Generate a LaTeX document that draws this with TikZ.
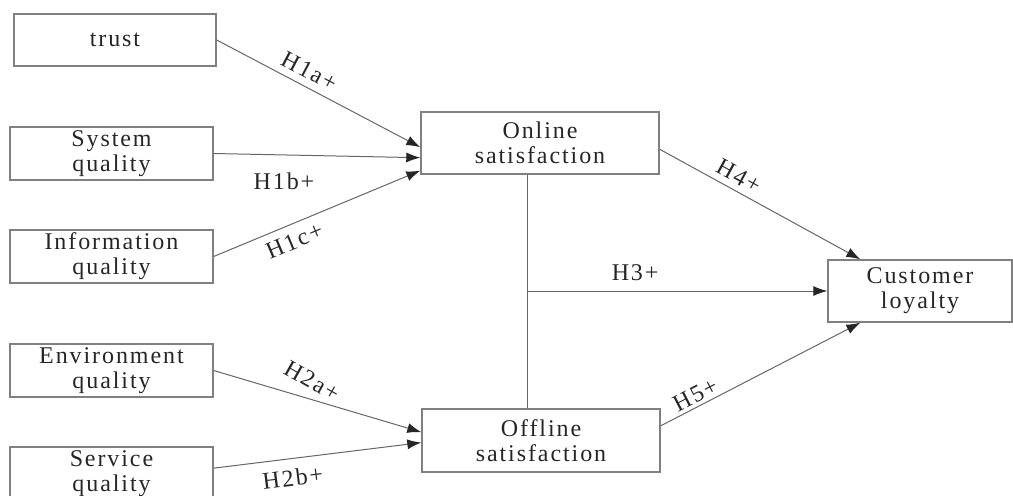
\documentclass[tikz,border=0pt]{standalone}
\usepackage{fontspec}
\setmainfont{Liberation Serif}[LetterSpace=8]
\usetikzlibrary{arrows.meta}

\begin{document}
\begin{tikzpicture}[auto, x=0.5pt, y=-0.5pt,
    every node/.style={font=\fontsize{12}{12.5}\selectfont, text=black!85},
    box/.style={draw=black!50, line width=0.7pt, align=center, inner sep=0pt},
    inbox/.style={box, minimum width=101.5pt, minimum height=26.5pt},
    link/.style={draw=black!60, line width=0.5pt, -{Latex[length=7pt,width=5pt,color=black!85]}},
    hyp/.style={inner sep=3pt}]
    \useasboundingbox (0,0) rectangle (1013,495);
    \node[box, minimum width=101pt, minimum height=26pt] (tr) at (115,40) {trust};
    \node[inbox] (sq) at (111.5,153.5) {System\\quality};
    \node[inbox] (iq) at (111.5,256.5) {Information\\quality};
    \node[inbox] (eq) at (111.5,370.5) {Environment\\quality};
    \node[inbox] (svq) at (111.5,473.5) {Service\\quality};
    \node[box, minimum width=119pt, minimum height=31pt] (on) at (540,143) {Online\\satisfaction};
    \node[box, minimum width=119pt, minimum height=31.5pt] (off) at (541,440.5) {Offline\\satisfaction};
    \node[box, minimum width=92pt, minimum height=31pt] (cl) at (920,291) {Customer\\loyalty};
    \coordinate (jn) at (527,291);
    \draw [link] (tr.east) to node[hyp, sloped, pos=.42, inner sep=3.4pt] {H1a+} (on.182);
    \draw [link] (sq.east) to node[hyp, swap, pos=.34, inner sep=8.5pt] {H1b+} (on.187);
    \draw [link] (iq.east) to node[hyp, swap, sloped, pos=.36, inner sep=4pt] {H1c+} (on.193);
    \draw [link] (eq.east) to node[hyp, sloped, rotate=-13, pos=.43, inner sep=5pt] {H2a+} (off.176);
    \draw [link] (svq.3) to node[hyp, swap, sloped, pos=.37, inner sep=5pt] {H2b+} (off.181);
    \draw [draw=black!60, line width=0.5pt] (on.south -| jn) -- (off.north -| jn);
    \draw [link] (on.357) to node[hyp, sloped, pos=.36] {H4+} (cl.152);
    \draw [link] (jn) to node[hyp, pos=.36, inner sep=5pt] {H3+} (cl.west);
    \draw [link] (off.7) to node[hyp, sloped, pos=.2, inner sep=1.5pt] {H5+} (cl.208);
\end{tikzpicture}
\end{document}
